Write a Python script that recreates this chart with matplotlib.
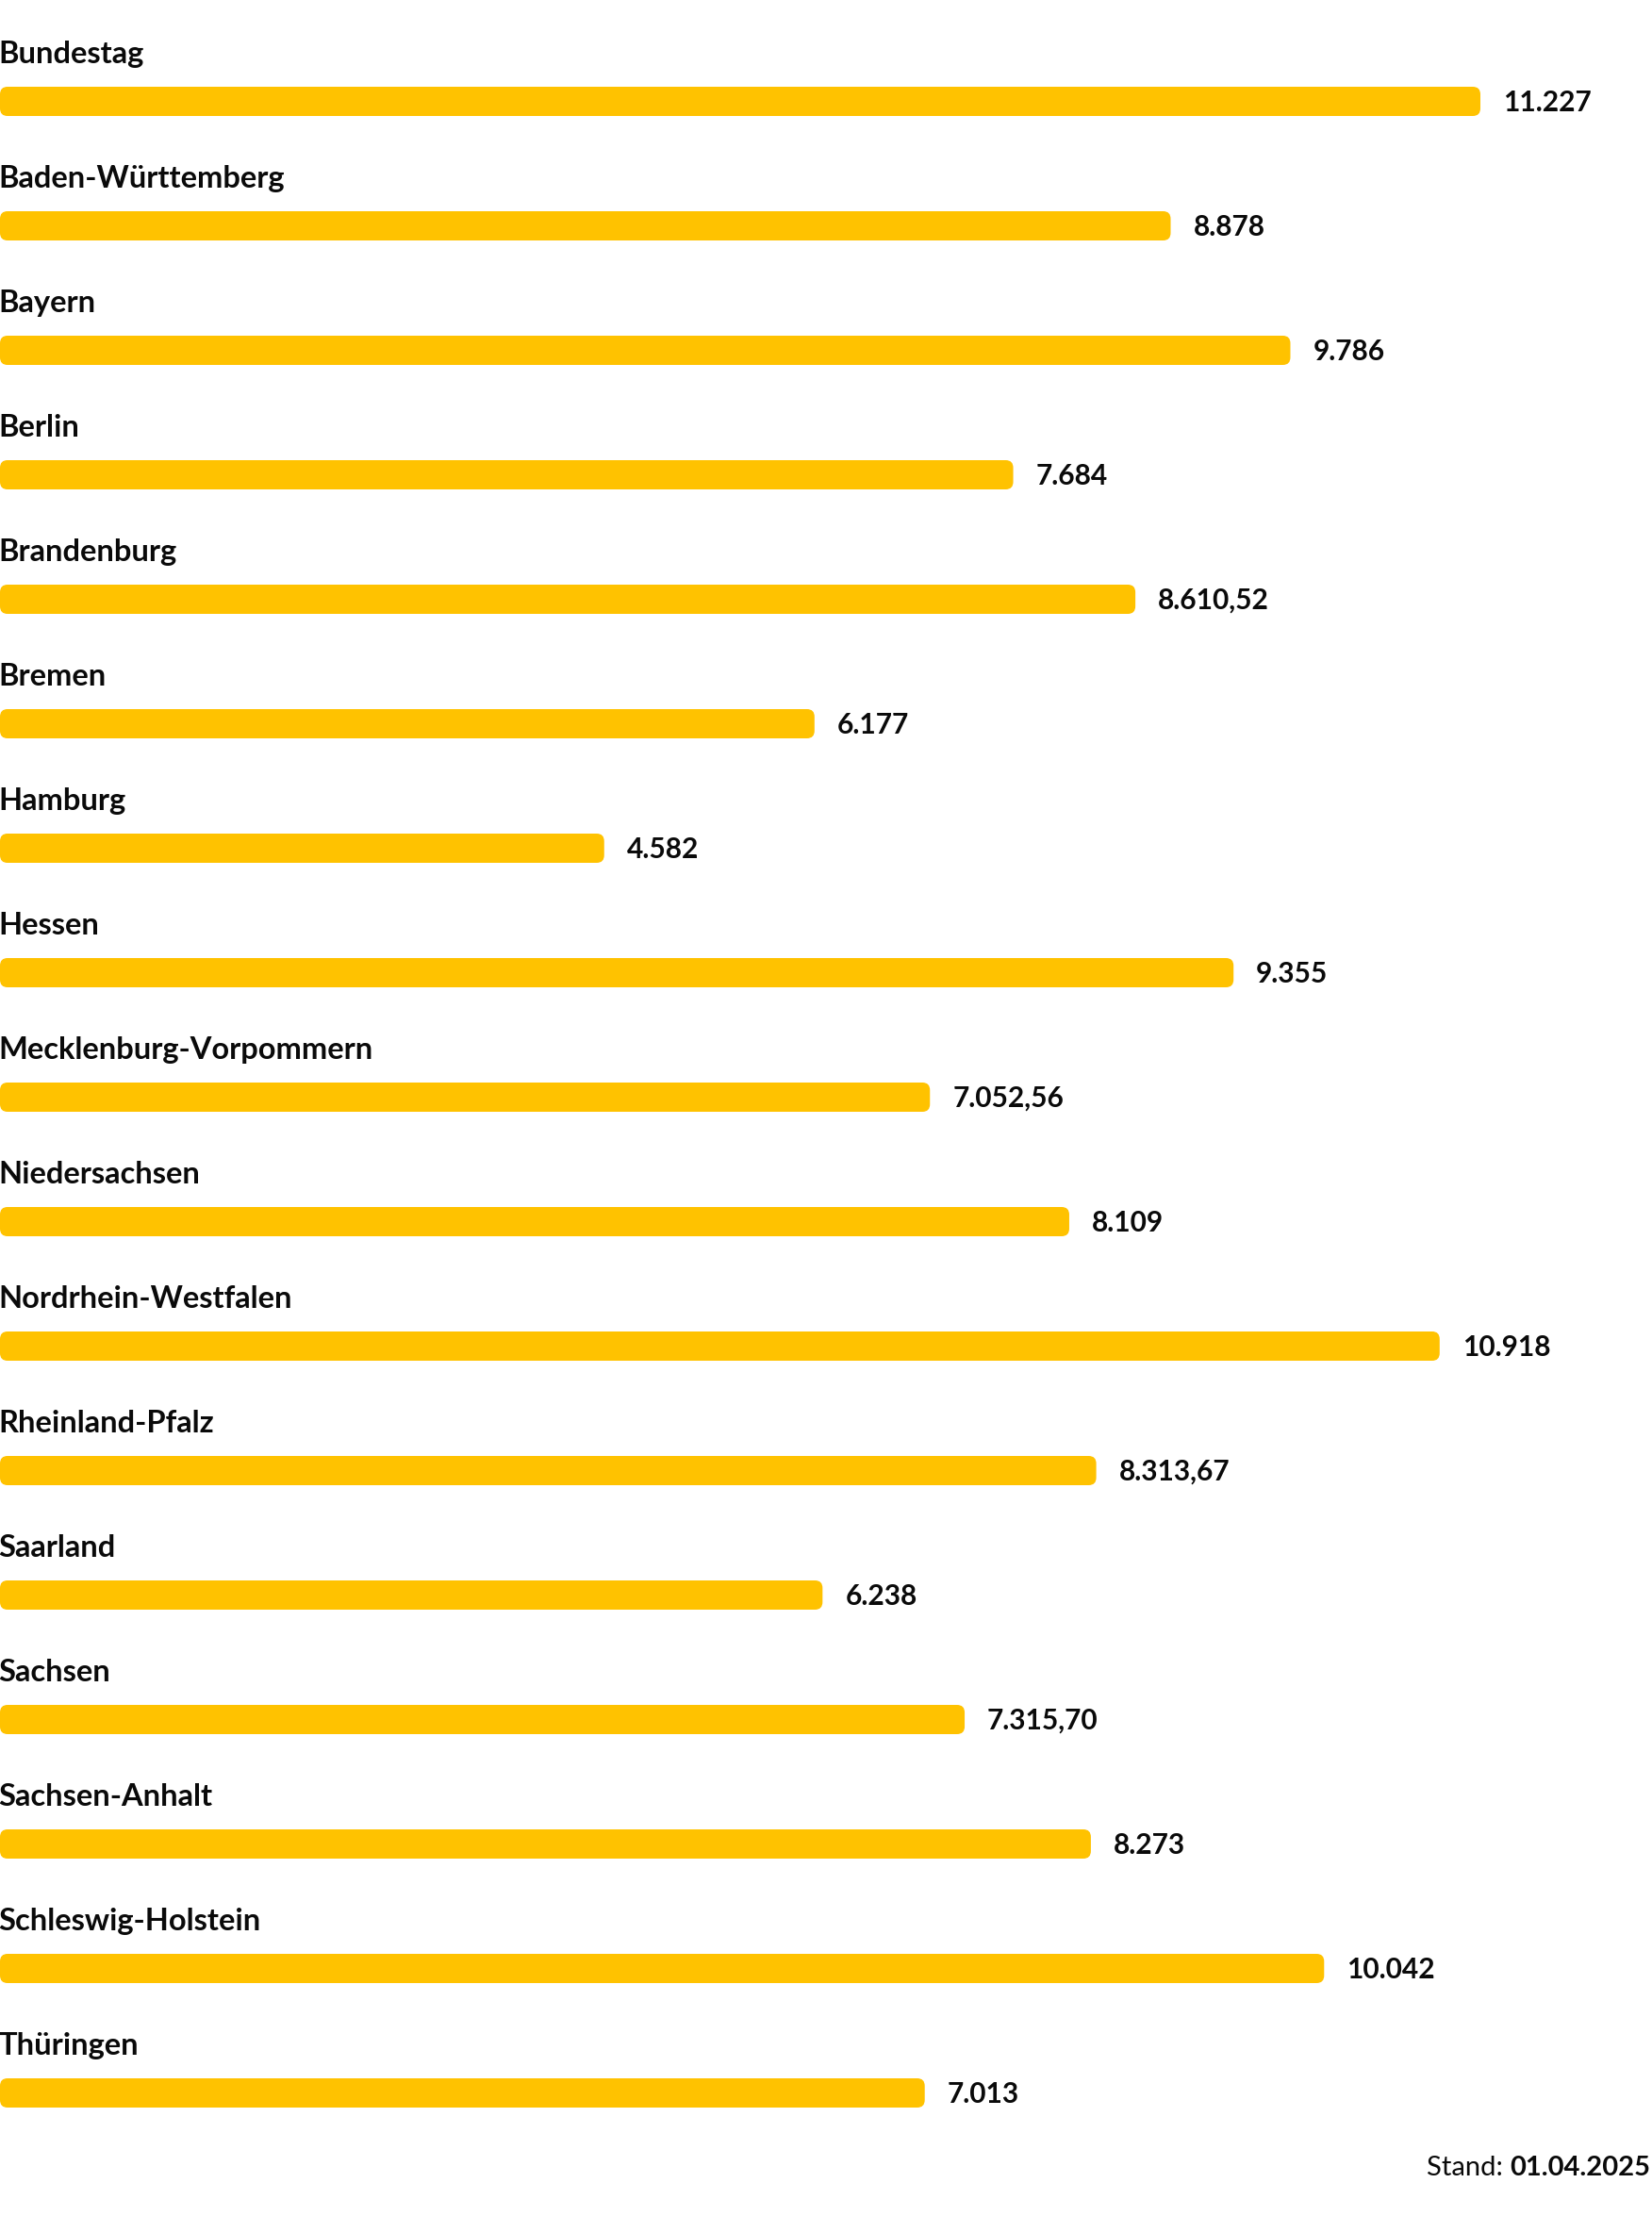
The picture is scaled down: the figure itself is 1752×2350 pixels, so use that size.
import matplotlib
matplotlib.use('Agg')
import matplotlib.pyplot as plt
from matplotlib.patches import FancyBboxPatch

plt.rcParams['font.family'] = ['Lato', 'DejaVu Sans']

categories = ['Bundestag', 'Baden-Württemberg', 'Bayern', 'Berlin', 'Brandenburg',
              'Bremen', 'Hamburg', 'Hessen', 'Mecklenburg-Vorpommern', 'Niedersachsen',
              'Nordrhein-Westfalen', 'Rheinland-Pfalz', 'Saarland', 'Sachsen',
              'Sachsen-Anhalt', 'Schleswig-Holstein', 'Thüringen']
values = [11227, 8878, 9786, 7684, 8610.52, 6177, 4582, 9355, 7052.56, 8109,
          10918, 8313.67, 6238, 7315.70, 8273, 10042, 7013]
stand_label = 'Stand: '
stand_date = '01.04.2025'

BAR_COLOR = '#FFC200'
TEXT_COLOR = '#0a0a0a'
W, H, DPI = 1752, 2350, 100
PX_PER_UNIT = 1570 / 11227      # bar length scale in pixels per value unit
ROW_PX = 132                    # row pitch
FIRST_PX = 107.5                # centre of first bar
BAR_PX = 31
RADIUS_PX = 8


def fmt_de(v):
    if float(v).is_integer():
        return f'{int(v):,}'.replace(',', '.')
    s = f'{v:,.2f}'
    return s.replace(',', 'X').replace('.', ',').replace('X', '.')


fig = plt.figure(figsize=(W / DPI, H / DPI), dpi=DPI)
ax = fig.add_axes([0, 0, 1, 1])
x_max = W / PX_PER_UNIT
ax.set_xlim(0, x_max)
ax.set_ylim((H - FIRST_PX) / ROW_PX, -FIRST_PX / ROW_PX)
ax.axis('off')

bar_h = BAR_PX / ROW_PX
aspect = PX_PER_UNIT / ROW_PX
for i, (cat, val) in enumerate(zip(categories, values)):
    patch = FancyBboxPatch((0, i - bar_h / 2), val, bar_h,
                           boxstyle=f'round,pad=0,rounding_size={RADIUS_PX / PX_PER_UNIT}',
                           mutation_aspect=aspect, facecolor=BAR_COLOR,
                           edgecolor='none')
    ax.add_patch(patch)
    ax.text(-1.5 / PX_PER_UNIT, i - 40.5 / ROW_PX, cat, fontsize=23.5, fontweight='bold',
            ha='left', va='baseline', color=TEXT_COLOR)
    ax.text(val + 24 / PX_PER_UNIT, i + 10.5 / ROW_PX, fmt_de(val), fontsize=21.5,
            fontweight='bold', ha='left', va='baseline', color=TEXT_COLOR)

# footer: "Stand: " regular + date bold, right aligned
renderer = fig.canvas.get_renderer()
t_date = fig.text(1750 / W, 1 - 2307 / H, stand_date, fontsize=21, fontweight='bold',
                  ha='right', va='baseline', color=TEXT_COLOR)
bb = t_date.get_window_extent(renderer)
fig.text(bb.x0 / W, 1 - 2307 / H, stand_label, fontsize=21, ha='right',
         va='baseline', color=TEXT_COLOR)

fig.savefig('out.png', dpi=DPI, facecolor='white')
